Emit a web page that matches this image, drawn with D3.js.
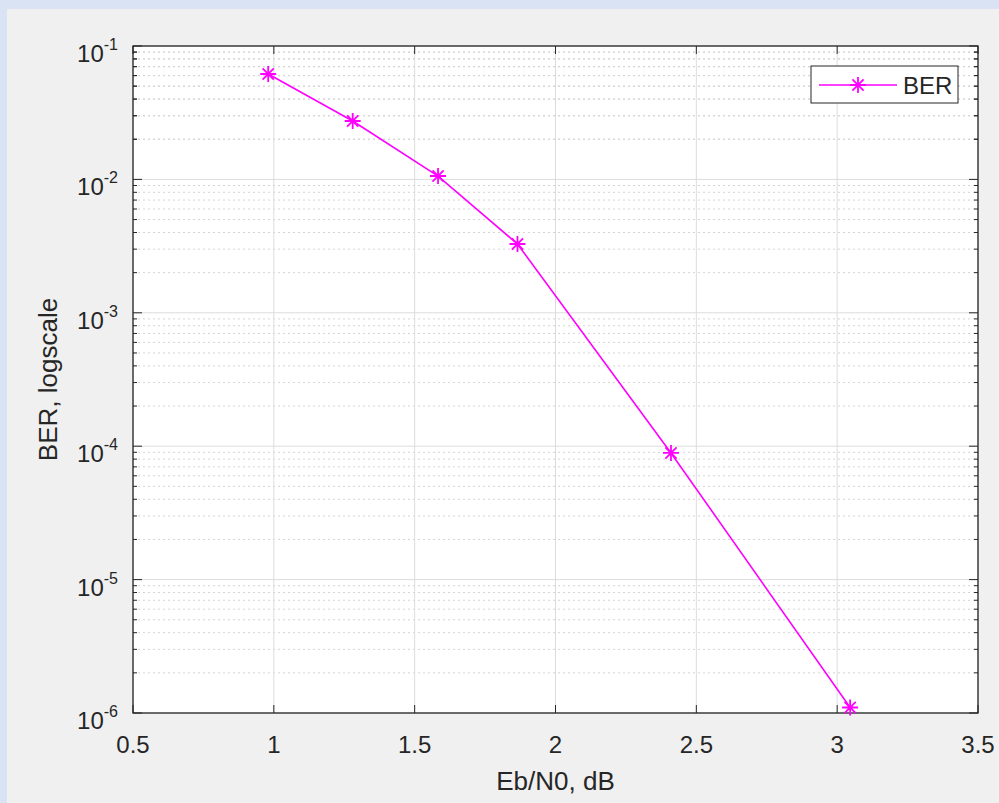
<!DOCTYPE html>
<html>
<head>
<meta charset="utf-8">
<script src="https://cdn.jsdelivr.net/npm/d3@7"></script>
<style>
  html, body { margin: 0; padding: 0; background: #dae3f3; }
  svg { display: block; }
  text { font-family: "Liberation Sans", Arial, sans-serif; fill: #262626; }
</style>
</head>
<body>
<div id="main"></div>
<script>
// data
const ebn0 = [0.98, 1.28, 1.583, 1.865, 2.41, 3.046];
const ber = [0.0617, 0.0274, 0.0106, 0.00328, 0.000089, 0.0000011];
const xTicks = [0.5, 1, 1.5, 2, 2.5, 3, 3.5];
const yExp = [-1, -2, -3, -4, -5, -6];
const seriesName = "BER";

const width = 999, height = 803;
const margin = { left: 133, top: 46, right: 999 - 978, bottom: 803 - 713 };

const svg = d3.select("#main").append("svg")
  .attr("width", width)
  .attr("height", height);

// gray figure panel
svg.append("rect")
  .attr("x", 7).attr("y", 9)
  .attr("width", width - 7).attr("height", height - 9)
  .attr("fill", "#f0f0f0");

const x = d3.scaleLinear().domain([0.5, 3.5]).range([margin.left, width - margin.right]);
const y = d3.scaleLog().domain([1e-6, 1e-1]).range([height - margin.bottom, margin.top]);

const x0 = x.range()[0], x1 = x.range()[1];
const y0 = y.range()[0], y1 = y.range()[1];

svg.append("rect")
  .attr("x", x0).attr("y", y1)
  .attr("width", x1 - x0).attr("height", y0 - y1)
  .attr("fill", "#fff");

// minor ticks values (2..9 per decade)
const minor = [];
for (let e = -6; e < -1; e++) {
  for (let m = 2; m <= 9; m++) minor.push(m * Math.pow(10, e));
}
for (let m = 2; m <= 9; m++) minor.push(m * 1e-2);

const grid = svg.append("g");
grid.selectAll(".ymin").data(minor).join("line")
  .attr("x1", x0).attr("x2", x1)
  .attr("y1", d => y(d)).attr("y2", d => y(d))
  .attr("stroke", "#d4d4d4").attr("stroke-width", 1)
  .attr("stroke-dasharray", "2,3");
grid.selectAll(".ymaj").data(yExp).join("line")
  .attr("x1", x0).attr("x2", x1)
  .attr("y1", d => y(Math.pow(10, d))).attr("y2", d => y(Math.pow(10, d)))
  .attr("stroke", "#dcdcdc").attr("stroke-width", 1);
grid.selectAll(".xmaj").data(xTicks).join("line")
  .attr("x1", d => x(d)).attr("x2", d => x(d))
  .attr("y1", y0).attr("y2", y1)
  .attr("stroke", "#dcdcdc").attr("stroke-width", 1);

// axes with inward ticks
const axisColor = "#262626";
const ticks = svg.append("g").attr("stroke", axisColor).attr("stroke-width", 1);
xTicks.forEach(v => {
  ticks.append("line").attr("x1", x(v)).attr("x2", x(v)).attr("y1", y0).attr("y2", y0 - 8);
  ticks.append("line").attr("x1", x(v)).attr("x2", x(v)).attr("y1", y1).attr("y2", y1 + 8);
});
yExp.forEach(e => {
  const yy = y(Math.pow(10, e));
  ticks.append("line").attr("x1", x0).attr("x2", x0 + 9).attr("y1", yy).attr("y2", yy);
  ticks.append("line").attr("x1", x1).attr("x2", x1 - 9).attr("y1", yy).attr("y2", yy);
});
minor.forEach(v => {
  const yy = y(v);
  ticks.append("line").attr("x1", x0).attr("x2", x0 + 4).attr("y1", yy).attr("y2", yy);
  ticks.append("line").attr("x1", x1).attr("x2", x1 - 4).attr("y1", yy).attr("y2", yy);
});

svg.append("rect")
  .attr("x", x0).attr("y", y1)
  .attr("width", x1 - x0).attr("height", y0 - y1)
  .attr("fill", "none").attr("stroke", axisColor).attr("stroke-width", 1.3);

// tick labels
svg.append("g").selectAll("text").data(xTicks).join("text")
  .attr("x", d => x(d)).attr("y", y0 + 40)
  .attr("text-anchor", "middle")
  .attr("font-size", 24)
  .text(d => d);

const yl = svg.append("g").selectAll("text").data(yExp).join("text")
  .attr("x", x0 - 15).attr("y", d => y(Math.pow(10, d)) + 16)
  .attr("text-anchor", "end")
  .attr("font-size", 24);
yl.append("tspan").text("10");
yl.append("tspan").attr("dy", -12).attr("font-size", 16).text(d => d);

// axis labels
svg.append("text")
  .attr("x", (x0 + x1) / 2).attr("y", 790)
  .attr("text-anchor", "middle").attr("font-size", 26)
  .text("Eb/N0, dB");
svg.append("text")
  .attr("transform", `translate(57,${(y0 + y1) / 2}) rotate(-90)`)
  .attr("text-anchor", "middle").attr("font-size", 26)
  .text("BER, logscale");

// series
const magenta = "#ff00ff";
const pts = ebn0.map((d, i) => [d, ber[i]]);
svg.append("path")
  .datum(pts)
  .attr("fill", "none").attr("stroke", magenta).attr("stroke-width", 1.6)
  .attr("d", d3.line().x(d => x(d[0])).y(d => y(d[1])));

function asterisk(g, cx, cy, r) {
  const a = r * 0.7;
  g.append("path")
    .attr("d", `M${cx - r},${cy}H${cx + r}M${cx},${cy - r}V${cy + r}` +
      `M${cx - a},${cy - a}L${cx + a},${cy + a}M${cx - a},${cy + a}L${cx + a},${cy - a}`)
    .attr("stroke", magenta).attr("stroke-width", 1.8).attr("fill", "none");
}
const mk = svg.append("g");
pts.forEach(d => asterisk(mk, x(d[0]), y(d[1]), 8));

// legend
const lg = svg.append("g");
lg.append("rect")
  .attr("x", 811).attr("y", 66).attr("width", 147).attr("height", 37)
  .attr("fill", "#fff").attr("stroke", axisColor).attr("stroke-width", 1);
lg.append("line")
  .attr("x1", 819).attr("x2", 897).attr("y1", 85).attr("y2", 85)
  .attr("stroke", magenta).attr("stroke-width", 1.6);
asterisk(lg, 858, 85, 8);
lg.append("text")
  .attr("x", 903).attr("y", 94).attr("font-size", 24)
  .text(seriesName);
</script>
</body>
</html>
